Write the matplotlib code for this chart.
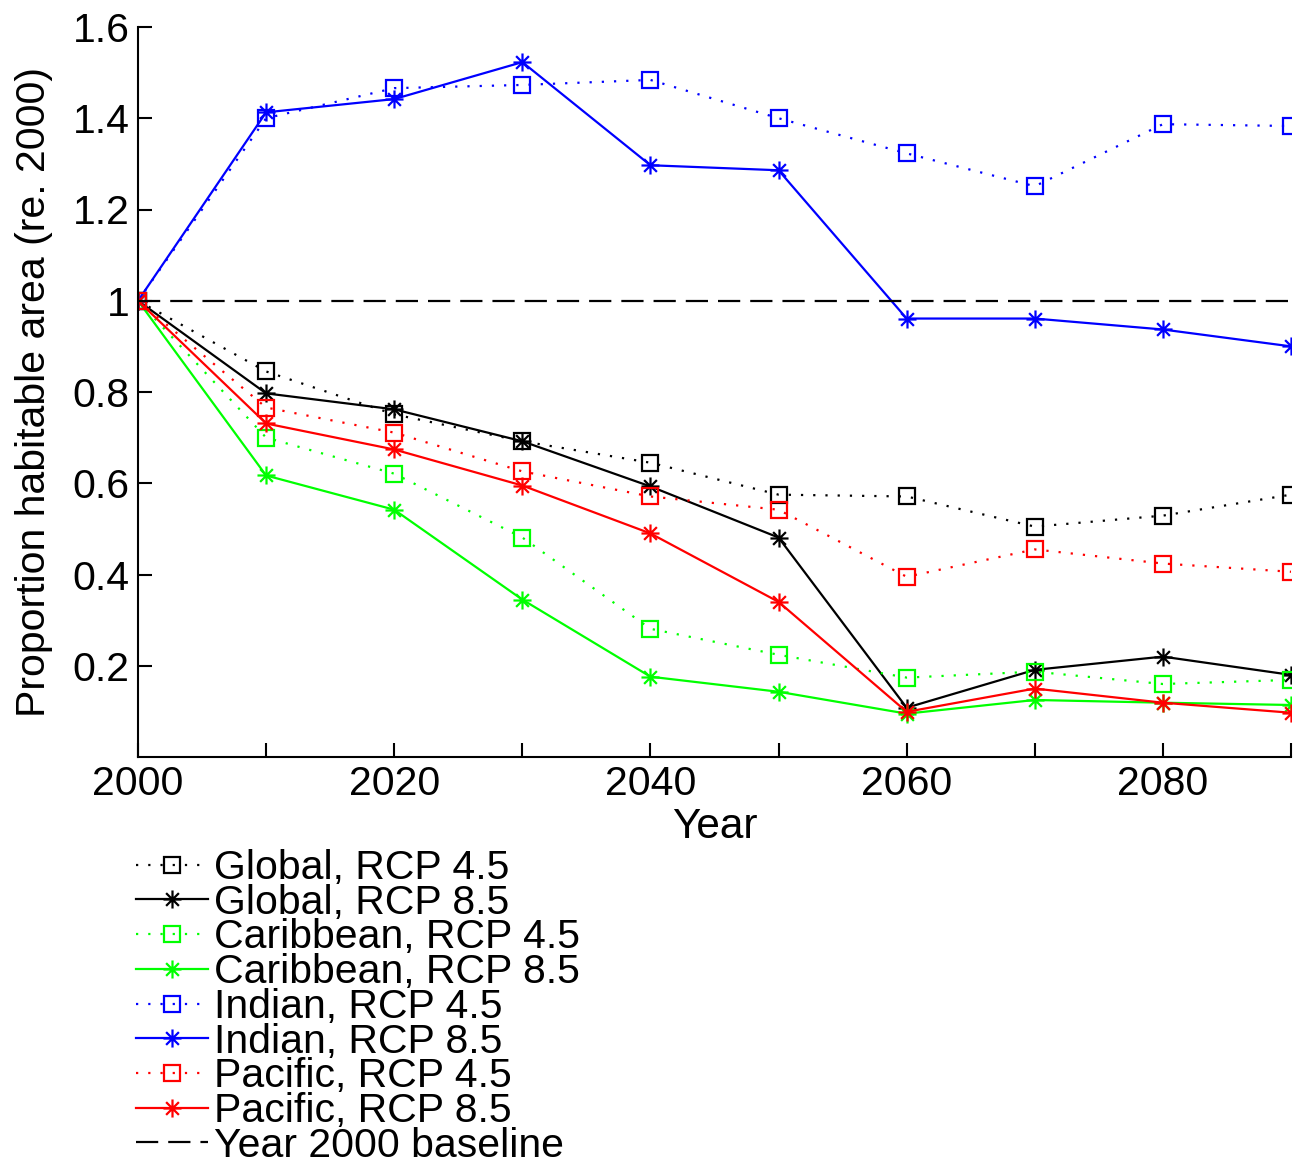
import numpy as np
import matplotlib
matplotlib.use("Agg")
import matplotlib.pyplot as plt
from matplotlib.path import Path

plt.rcParams['font.family'] = ['Liberation Sans', 'DejaVu Sans']

# ==========================================
# Data
# ==========================================
years = [2000, 2010, 2020, 2030, 2040, 2050, 2060, 2070, 2080, 2090]

global_45 = [1.0, 0.845, 0.751, 0.692, 0.645, 0.575, 0.571, 0.505, 0.529, 0.575]
global_85 = [1.0, 0.797, 0.762, 0.692, 0.593, 0.481, 0.108, 0.191, 0.220, 0.180]
carib_45 = [1.0, 0.700, 0.621, 0.481, 0.281, 0.224, 0.174, 0.187, 0.160, 0.169]
carib_85 = [1.0, 0.617, 0.542, 0.345, 0.176, 0.143, 0.095, 0.125, 0.119, 0.114]
indian_45 = [1.0, 1.400, 1.466, 1.473, 1.484, 1.400, 1.323, 1.251, 1.387, 1.383]
indian_85 = [1.0, 1.413, 1.442, 1.523, 1.297, 1.286, 0.961, 0.961, 0.937, 0.900]
pacific_45 = [1.0, 0.766, 0.711, 0.626, 0.571, 0.542, 0.395, 0.455, 0.424, 0.406]
pacific_85 = [1.0, 0.731, 0.674, 0.595, 0.490, 0.340, 0.099, 0.150, 0.119, 0.097]

series = [
    ("Global, RCP 4.5", global_45, 'k', 'sq'),
    ("Global, RCP 8.5", global_85, 'k', 'ast'),
    ("Caribbean, RCP 4.5", carib_45, '#00ff00', 'sq'),
    ("Caribbean, RCP 8.5", carib_85, '#00ff00', 'ast'),
    ("Indian, RCP 4.5", indian_45, '#0000ff', 'sq'),
    ("Indian, RCP 8.5", indian_85, '#0000ff', 'ast'),
    ("Pacific, RCP 4.5", pacific_45, '#ff0000', 'sq'),
    ("Pacific, RCP 8.5", pacific_85, '#ff0000', 'ast'),
]

yticks = [0.2, 0.4, 0.6, 0.8, 1.0, 1.2, 1.4, 1.6]
ytick_labels = ['0.2', '0.4', '0.6', '0.8', '1', '1.2', '1.4', '1.6']
xticks = list(range(2000, 2091, 10))
xtick_labels = [str(y) if (y - 2000) % 20 == 0 else '' for y in xticks]

# MATLAB-style asterisk marker (+ and x combined)
d = 0.7071
ast_verts = [(-1, 0), (1, 0), (0, -1), (0, 1), (-d, -d), (d, d), (-d, d), (d, -d)]
ast_codes = [Path.MOVETO, Path.LINETO] * 4
asterisk = Path(ast_verts, ast_codes)

fig = plt.figure(figsize=(12.93, 11.64), dpi=100)
ax = fig.add_axes([138 / 1293, 1 - 757 / 1164, 1153 / 1293, (757 - 27) / 1164])

for label, vals, color, kind in series:
    if kind == 'sq':
        ax.plot(years, vals, linestyle=(0, (1, 4.5)), color=color, lw=1.6,
                marker='s', markersize=11, markerfacecolor='none',
                markeredgecolor=color, markeredgewidth=1.6, label=label)
    else:
        ax.plot(years, vals, linestyle='-', color=color, lw=1.6,
                marker=asterisk, markersize=13, markerfacecolor=color,
                markeredgecolor=color, markeredgewidth=1.6, label=label)

ax.axhline(1.0, color='k', lw=1.6, linestyle=(0, (10, 4.5)), label="Year 2000 baseline")

ax.set_xlim(2000, 2090)
ax.set_ylim(0, 1.6)
ax.set_xticks(xticks)
ax.set_xticklabels(xtick_labels)
ax.set_yticks(yticks)
ax.set_yticklabels(ytick_labels)
ax.tick_params(direction='in', length=10, width=1.5, labelsize=29.5, pad=6)
ax.spines['top'].set_visible(False)
ax.spines['right'].set_visible(False)
ax.spines['left'].set_linewidth(1.5)
ax.spines['bottom'].set_linewidth(1.5)

ax.set_xlabel('Year', fontsize=30.5, labelpad=3)
ax.set_ylabel('Proportion habitable area (re. 2000)', fontsize=29.5, labelpad=14)

fig.legend(loc='upper left', bbox_to_anchor=(136 / 1293, 1 - 849 / 1164),
           frameon=False, fontsize=29.5, handlelength=1.75, handletextpad=0.15,
           labelspacing=-0.08, borderpad=0, borderaxespad=0)

fig.savefig('out.png', dpi=100)
